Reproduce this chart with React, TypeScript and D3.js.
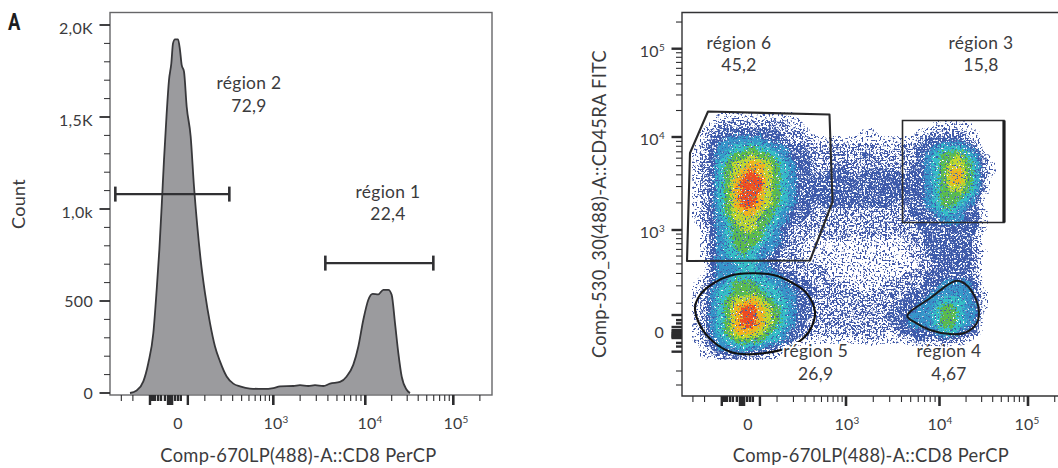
import React from "react";
import * as d3 from "d3";

// ---------- panel A: histogram (display bins and event counts)
const histBins = [60,80,100,115,130,140,148,155,162,170,177,184,189,195,204,210,215,222,230,242,252,262,272,285,300,315,330,350,370,390,420,460,490,510,550,570,595,615,640,660,690,710,730,745,760,775,788,805,820,835,845,855,865,875,890,900];
const histCounts = [0,14,63,163,326,561,778,1014,1267,1520,1701,1792,1900,1922,1922,1864,1783,1747,1557,1394,1122,905,724,543,380,253,172,90,51,36,24,22,27,36,38,43,38,43,38,51,60,90,154,253,398,507,539,536,561,561,534,380,217,90,18,0];
const countMajor = [0, 500, 1000, 1500, 2000];
const countLabels = ["0", "500", "1,0k", "1,5K", "2,0K"];
const countMinor = [100,200,300,400,600,700,800,900,1100,1200,1300,1400,1600,1700,1800,1900];
const histGates = [
  { from: 16, to: 358, count: 1081 },
  { from: 646, to: 970, count: 706 },
];

// ---------- fluorescence axis ticks
const decadeTicks = [1000, 10000, 100000];
const minorTicks = [-300,-200,100,200,300,400,500,600,700,800,900,2000,3000,4000,5000,6000,7000,8000,9000,20000,30000,40000,50000,60000,70000,80000,90000,200000];
const rugXTall = [-96,-25,-22,-19,-16,-13,31];
const rugXShort = [-90,-82,-73,-60,-49,-35,-5,2.5,10];
const rugYTall = [52,15,7,3,0,-4,-8,-11,-15,-19,-91];
const rugYShort = [35,25,-41,-60];

// ---------- panel B: density levels per 8px display cell
const densityRows = [
  "000011111111110"+"000000000000000"+"00000000000",
  "000122222222211"+"000000000000000"+"01111100000",
  "001233333333222"+"100000011000001"+"12222110000",
  "001334444433322"+"211111111111112"+"33333210000",
  "012344556554433"+"222222222212223"+"34555430000",
  "012345667665433"+"322222232222223"+"45667542000",
  "012356778876543"+"322222222222223"+"45677652100",
  "012356789876543"+"322333233333233"+"45688652100",
  "012356899976543"+"333333333333333"+"45688652000",
  "012356899976543"+"333333333333333"+"45677652000",
  "012356899876543"+"333333333333333"+"45666541000",
  "012356899876543"+"323333333332233"+"45665430000",
  "012356788765433"+"322222222222233"+"34554331000",
  "012345777665433"+"222222222222223"+"33444331000",
  "001345677654322"+"222222222222223"+"33333331000",
  "001345666654322"+"212222122221222"+"33333320000",
  "001345666544322"+"111111111111122"+"33333320000",
  "001345565443222"+"111111111111122"+"33333321000",
  "001344555433222"+"111111111111112"+"23333320000",
  "000344455443222"+"222111111111112"+"23333320000",
  "001344555544332"+"222111111111222"+"33333320000",
  "012345666554433"+"322221111122222"+"33444430000",
  "012455666655443"+"322222212222233"+"34444431000",
  "012456778765543"+"322222222222333"+"44555431000",
  "012456899876543"+"322222222223334"+"45665441000",
  "012456899876543"+"322222222233344"+"45665440000",
  "012456899876543"+"222222222223344"+"45665430000",
  "012456888765433"+"222222222212333"+"34554330000",
  "012345666655432"+"111111112111123"+"22322100000",
  "001344454432110"+"000000000000000"+"00000000000",
  "001122322211000"+"000000000000000"+"00000000000",
];
const gridCols = 41;
const levelColors = ["#4058a8","#3f58a9","#3d5bab","#3596c9","#35bfc6","#5dbb48","#c4d82e","#f6b01c","#ee4a23"];

// gates in display channels of panel B
const gate6 = [[26,284.5],[147.5,281.5],[150.5,194],[128,135.5],[5,135],[8,243]];
const gate3 = [[220.5,275.5],[322,275.5],[322,173.5],[220.5,173.5]];
const gate5 = [[13,87.7],[18,101],[31.3,112.7],[48,120.3],[68,122.7],[91.3,121],[111.3,112.7],[124.7,102.7],[133,84.3],[129.7,69.3],[121.3,57.7],[104.7,47.7],[81.3,42.7],[64.7,41.7],[48,44.3],[31.3,54.3],[19.7,67.7]];
const gate4 = [[225.3,80],[248,97.7],[274.7,115.3],[286.3,109.3],[296.3,89.3],[294.7,72.7],[283,63.3],[268,62],[248,66],[234.7,72.7]];

// ---------- text
const xTitle = "Comp-670LP(488)-A::CD8 PerCP";
const yTitleB = "Comp-530_30(488)-A::CD45RA FITC";
const ink = "#3b3b3d";
const font = "Lato, 'Open Sans', sans-serif";

// ---------- scales
const histX = d3.scaleLinear().domain([0, 1146]).range([110, 492]);
const countY = d3.scaleLinear().domain([0, 2000]).range([393, 25]);
const fluoA = d3.scaleSymlog().constant(100).domain([0,1000,10000,100000]).range([177,273.3,365.3,453.3]);
const fluoB = d3.scaleSymlog().constant(100).domain([0,1000,10000,100000]).range([749,846,939.5,1028]);
const fluoY = d3.scaleSymlog().constant(100).domain([-300,-200,-100,0,1000,10000,100000]).range([385,371,353,333,230,137,48.7]);
const chX = d3.scaleLinear().domain([0, 382]).range([682, 1064]);
const chY = d3.scaleLinear().domain([0, 382]).range([396, 14]);
const gridX = d3.scaleLinear().domain([0, gridCols]).range([684, 684 + 8 * gridCols]);
const gridY = d3.scaleLinear().domain([0, densityRows.length]).range([112, 112 + 8 * densityRows.length]);

const histPath = d3.area<number>()
  .x((_, i) => histX(histBins[i]))
  .y0(countY(0) + 1.5)
  .y1((c) => countY(c))
  .curve(d3.curveMonotoneX)(histCounts) as string;
const histLine = d3.line<number>()
  .x((_, i) => histX(histBins[i]))
  .y((c) => countY(c))
  .curve(d3.curveMonotoneX)(histCounts) as string;

const densityValues = densityRows.flatMap((r) => r.padEnd(gridCols, "0").split("").map(Number));
const bands = d3.contours().size([gridCols, densityRows.length])
  .thresholds([0.5,1.5,2.5,3.5,4.5,5.5,6.5,7.5,8.5])(densityValues);
const gridPath = d3.geoPath(d3.geoTransform({
  point(x: number, y: number) { (this as any).stream.point(gridX(x), gridY(y)); },
}));

const gateLine = d3.line<number[]>().x((p) => chX(p[0])).y((p) => chY(p[1]));
const gate6Path = gateLine.curve(d3.curveLinearClosed)(gate6) as string;
const gate3Path = gateLine.curve(d3.curveLinearClosed)(gate3) as string;
const gate5Path = gateLine.curve(d3.curveCatmullRomClosed.alpha(0.5))(gate5) as string;
const gate4Path = gateLine.curve(d3.curveCatmullRomClosed.alpha(0.5))(gate4) as string;

const region = { x: 682, y: 14, width: 376, height: 382 };

function Speckle({ id, seed, k, b }: { id: string; seed: number; k: number; b: number }) {
  return (
    <filter id={id} filterUnits="userSpaceOnUse" {...region} colorInterpolationFilters="sRGB">
      <feTurbulence type="fractalNoise" baseFrequency="0.55" numOctaves={1} seed={seed} result="n" />
      <feColorMatrix in="n" type="matrix" values={`0 0 0 0 0 0 0 0 0 0 0 0 0 0 0 ${k} 0 0 0 ${b}`} result="m" />
      <feComposite in="SourceGraphic" in2="m" operator="in" />
    </filter>
  );
}

function Mottle({ id, seed, k, b }: { id: string; seed: number; k: number; b: number }) {
  return (
    <filter id={id} filterUnits="userSpaceOnUse" {...region} colorInterpolationFilters="sRGB">
      <feTurbulence type="fractalNoise" baseFrequency="0.5" numOctaves={2} seed={7} result="d" />
      <feDisplacementMap in="SourceGraphic" in2="d" scale={16} xChannelSelector="R" yChannelSelector="G" result="g" />
      <feTurbulence type="fractalNoise" baseFrequency="0.6" numOctaves={1} seed={seed} result="n" />
      <feColorMatrix in="n" type="matrix" values={`0 0 0 0 0 0 0 0 0 0 0 0 0 0 0 ${k} 0 0 0 ${b}`} result="m" />
      <feComposite in="g" in2="m" operator="in" />
    </filter>
  );
}

function Sup({ x, y, exp, anchor = "middle", size = 16 }: any) {
  return (
    <text x={x} y={y} textAnchor={anchor} fontSize={size} fill={ink}>
      10<tspan dy={-6} fontSize={size * 0.62}>{exp}</tspan>
    </text>
  );
}

function XAxis({ scale, y }: { scale: any; y: number }) {
  return (
    <g stroke="#2c2c2e">
      {minorTicks.map((v) => <line key={v} x1={scale(v)} x2={scale(v)} y1={y} y2={y + 6} strokeWidth={1.1} />)}
      {decadeTicks.map((v) => <line key={v} x1={scale(v)} x2={scale(v)} y1={y} y2={y + 10} strokeWidth={2.6} />)}
      {rugXShort.map((v) => <line key={v} x1={scale(v)} x2={scale(v)} y1={y} y2={y + 6} strokeWidth={2.4} />)}
      {rugXTall.map((v) => <line key={v} x1={scale(v)} x2={scale(v)} y1={y} y2={y + 10} strokeWidth={2.4} />)}
    </g>
  );
}

export default function App() {
  return (
    <svg width={1058} height={468} viewBox="0 0 1058 468"
      style={{ position: "absolute", left: 0, top: 0, background: "#fff", fontFamily: font, letterSpacing: 0.3 }}>
      <defs>
        <Speckle id="sp1" seed={3} k={14} b={-7.7} />
        <Speckle id="sp2" seed={11} k={14} b={-7.2} />
        <Speckle id="sp3" seed={23} k={14} b={-6.2} />
        <Mottle id="mot" seed={31} k={10} b={-3.6} />
      </defs>

      <text x={8} y={30} fontFamily="Roboto, sans-serif" fontWeight={700} fontSize={23} fill="#1d1d1f" transform="translate(1.6 0) scale(0.8 1)">A</text>

      {/* histogram panel */}
      <path d={histPath} fill="#9b9b9e" />
      <path d={histLine} fill="none" stroke="#38383b" strokeWidth={1.8} strokeLinejoin="round" />
      <rect x={110} y={12.5} width={382} height={382.5} fill="none" stroke="#666668" strokeWidth={1.4} />
      {histGates.map((g) => (
        <g key={g.from} stroke="#303033">
          <line x1={histX(g.from)} x2={histX(g.to)} y1={countY(g.count)} y2={countY(g.count)} strokeWidth={2.2} />
          <line x1={histX(g.from)} x2={histX(g.from)} y1={countY(g.count) - 7.5} y2={countY(g.count) + 7.5} strokeWidth={2.6} />
          <line x1={histX(g.to)} x2={histX(g.to)} y1={countY(g.count) - 7.5} y2={countY(g.count) + 7.5} strokeWidth={2.6} />
        </g>
      ))}
      <g stroke="#2c2c2e">
        {countMinor.map((v) => <line key={v} x1={104} x2={110} y1={countY(v)} y2={countY(v)} strokeWidth={1} />)}
        {countMajor.map((v) => <line key={v} x1={99.5} x2={110} y1={countY(v)} y2={countY(v)} strokeWidth={1.8} />)}
      </g>
      <g fontSize={16} fill={ink} textAnchor="end">
        {countMajor.map((v, i) => <text key={v} x={93} y={countY(v) + (v >= 1000 ? 8.5 : 5.5)}>{countLabels[i]}</text>)}
      </g>
      <XAxis scale={fluoA} y={395} />
      <text x={178} y={429} fontSize={16} fill={ink} textAnchor="middle">0</text>
      <Sup x={276} y={429} exp="3" /><Sup x={370} y={429} exp="4" /><Sup x={456} y={429} exp="5" />
      <text x={25} y={204} fontSize={18} fill={ink} textAnchor="middle" transform="rotate(-90 25 204)">Count</text>
      <text x={298.5} y={462} fontSize={18.3} fill={ink} textAnchor="middle">{xTitle}</text>
      <g fontSize={17.4} fill={ink} textAnchor="middle">
        <text x={249} y={89}>région 2</text><text x={249} y={111.5}>72,9</text>
        <text x={388} y={198}>région 1</text><text x={388} y={220}>22,4</text>
      </g>

      {/* density panel */}
      <g>
        {bands.slice(0, 3).map((b, i) => (
          <path key={i} d={gridPath(b as any) as string} fill={levelColors[i]} filter={`url(#sp${i + 1})`} />
        ))}
        {bands.slice(3).map((b, i) => (
          <path key={i} d={gridPath(b as any) as string} fill={levelColors[i + 3]} filter="url(#mot)" />
        ))}
      </g>
      <path d={gate6Path} fill="none" stroke="#2a2a2c" strokeWidth={2.1} strokeLinejoin="round" />
      <path d={gate3Path} fill="none" stroke="#2a2a2c" strokeWidth={1.6} />
      <line x1={chX(322)} x2={chX(322)} y1={chY(275.5)} y2={chY(173.5)} stroke="#1d1d1f" strokeWidth={3.2} />
      <path d={gate5Path} fill="none" stroke="#111" strokeWidth={2.1} />
      <path d={gate4Path} fill="none" stroke="#1a1a1c" strokeWidth={2} />

      <path d={`M${chX(382)},12.5H682V396H${chX(382)}`} fill="none" stroke="#333335" strokeWidth={1.4} />
      <g stroke="#2c2c2e">
        {minorTicks.map((v) => <line key={v} x1={676} x2={682} y1={fluoY(v)} y2={fluoY(v)} strokeWidth={1.1} />)}
        {decadeTicks.map((v) => <line key={v} x1={671.5} x2={682} y1={fluoY(v)} y2={fluoY(v)} strokeWidth={2.4} />)}
        {rugYShort.map((v) => <line key={v} x1={676} x2={682} y1={fluoY(v)} y2={fluoY(v)} strokeWidth={2.4} />)}
        {rugYTall.map((v) => <line key={v} x1={671.5} x2={682} y1={fluoY(v)} y2={fluoY(v)} strokeWidth={2.4} />)}
      </g>
      <XAxis scale={fluoB} y={396} />
      <text x={748} y={430} fontSize={16} fill={ink} textAnchor="middle">0</text>
      <Sup x={847} y={430} exp="3" /><Sup x={940} y={430} exp="4" /><Sup x={1027} y={430} exp="5" />
      <Sup x={665} y={57} exp="5" anchor="end" /><Sup x={665} y={145} exp="4" anchor="end" /><Sup x={665} y={238} exp="3" anchor="end" />
      <text x={664} y={338} fontSize={16} fill={ink} textAnchor="end">0</text>
      <text x={606} y={204} fontSize={18.3} fill={ink} textAnchor="middle" transform="rotate(-90 606 204)">{yTitleB}</text>
      <text x={871} y={462} fontSize={18.3} fill={ink} textAnchor="middle">{xTitle}</text>
      <g fontSize={17.4} fill={ink} textAnchor="middle">
        <text x={739} y={49}>région 6</text><text x={739} y={71}>45,2</text>
        <text x={981} y={49}>région 3</text><text x={981} y={71}>15,8</text>
        <text x={815.7} y={356.5} stroke="#fff" strokeWidth={4} paintOrder="stroke">région 5</text>
        <text x={815.7} y={380}>26,9</text>
        <text x={949} y={356.5}>région 4</text><text x={949} y={380}>4,67</text>
      </g>
    </svg>
  );
}
